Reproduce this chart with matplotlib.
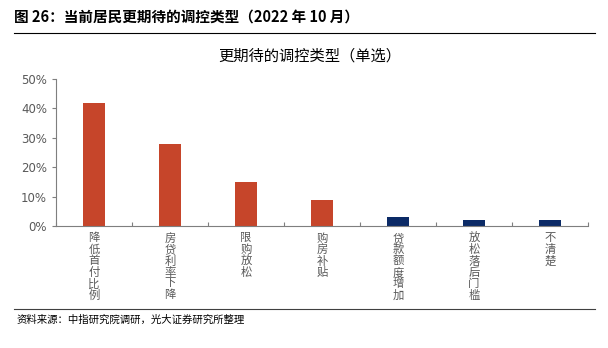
import matplotlib
matplotlib.use("Agg")
import matplotlib.pyplot as plt
from matplotlib.lines import Line2D

plt.rcParams['font.family'] = ['Noto Sans CJK SC', 'DejaVu Sans']

categories = ["降低首付比例", "房贷利率下降", "限购放松", "购房补贴",
              "贷款额度增加", "放松落后门槛", "不清楚"]
values = [42, 28, 15, 9, 3, 2, 2]
RED, NAVY = "#C6452A", "#0B2A66"
colors = [RED, RED, RED, RED, NAVY, NAVY, NAVY]
yticks = [0, 10, 20, 30, 40, 50]
GRAY = "#595959"

fig = plt.figure(figsize=(6.08, 3.48), dpi=100)
W, H = 608, 348
ax = fig.add_axes([56 / W, 1 - 226 / H, 532 / W, 147 / H])

x = range(len(categories))
ax.bar(x, values, width=0.3, color=colors)
ax.set_xlim(-0.5, len(categories) - 0.5)
ax.set_ylim(0, 50)
ax.set_yticks(yticks)
ax.set_yticklabels([f"{v}%" for v in yticks], color=GRAY, fontsize=8.5,
                   family=["DejaVu Sans"])
ax.set_xticks([i - 0.5 for i in range(len(categories) + 1)])
ax.set_xticklabels([])
ax.tick_params(axis="x", direction="in", length=3, color="#7f7f7f")
ax.tick_params(axis="y", direction="out", length=3, color="#7f7f7f")
# vertical labels: one character per row, stacked under each bar
for i, c in enumerate(categories):
    for k, ch in enumerate(c):
        ax.annotate(ch, xy=(i, 0), xytext=(0, -(7 + k * 11.3)),
                    textcoords="offset pixels", ha="center", va="top",
                    fontsize=8.2, color=GRAY)
for s in ["top", "right"]:
    ax.spines[s].set_visible(False)
for s in ["left", "bottom"]:
    ax.spines[s].set_color("#7f7f7f")

fig.text(14 / W, 1 - 17 / H, "图 26：当前居民更期待的调控类型（2022 年 10 月）",
         fontsize=10.5, fontweight="bold", va="center", ha="left")
fig.add_artist(Line2D([14 / W, 595 / W], [1 - 33 / H] * 2, color="black", lw=0.8))
fig.text(310 / W, 1 - 56 / H, "更期待的调控类型（单选）", fontsize=11,
         va="center", ha="center")
fig.add_artist(Line2D([14 / W, 595 / W], [1 - 309 / H] * 2, color="#404040", lw=0.8))
fig.text(17 / W, 1 - 320 / H, "资料来源：中指研究院调研，光大证券研究所整理",
         fontsize=7.5, va="center", ha="left")

fig.savefig("out.png", dpi=100)
